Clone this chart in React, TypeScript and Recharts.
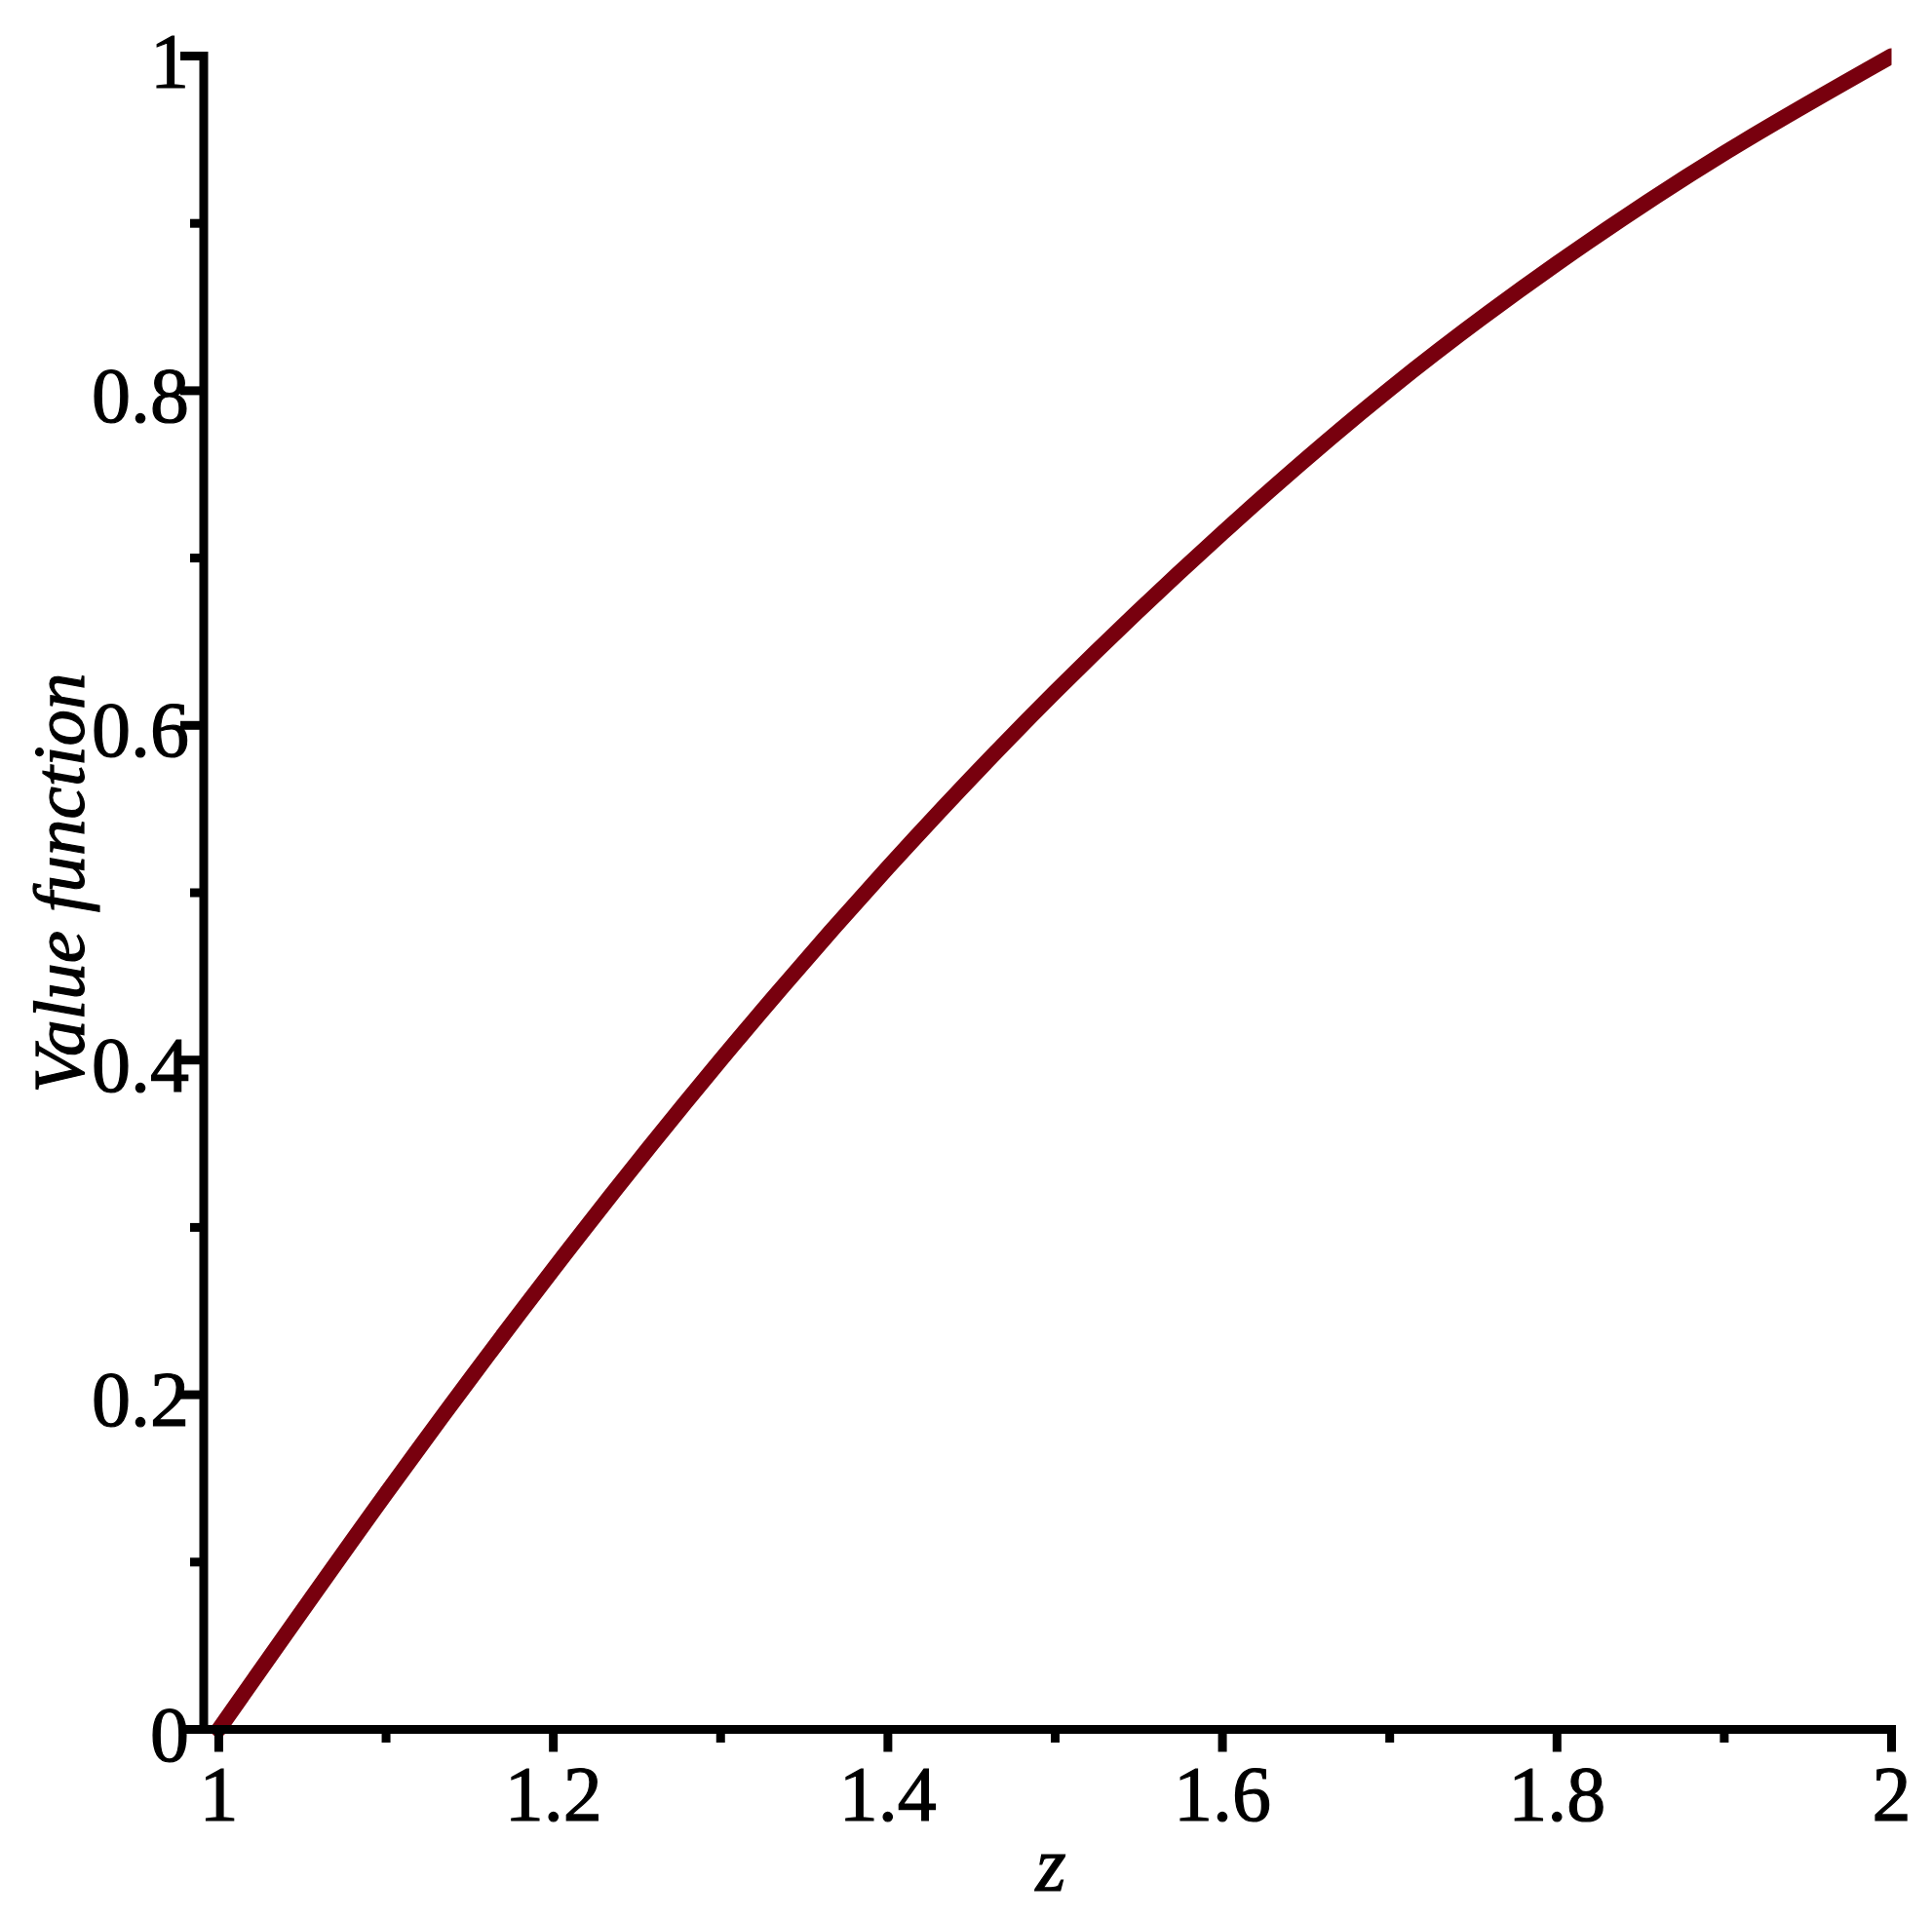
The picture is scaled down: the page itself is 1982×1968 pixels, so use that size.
import { Line, LineChart, XAxis, YAxis } from 'recharts'

// value function sampled at z = 1.0 .. 2.0
const zValues = [1, 1.1, 1.2, 1.3, 1.4, 1.5, 1.6, 1.7, 1.8, 1.9, 2]
const valueFn = [0, 0.141, 0.275, 0.4, 0.515, 0.62, 0.715, 0.801, 0.876, 0.942, 1]

const xTicks = [1, 1.1, 1.2, 1.3, 1.4, 1.5, 1.6, 1.7, 1.8, 1.9, 2]
const xLabels = ['1', '', '1.2', '', '1.4', '', '1.6', '', '1.8', '', '2']
const yTicks = [0, 0.1, 0.2, 0.3, 0.4, 0.5, 0.6, 0.7, 0.8, 0.9, 1]
const yLabels = ['0', '', '0.2', '', '0.4', '', '0.6', '', '0.8', '', '1']

const data = zValues.map((z, i) => ({ z, v: valueFn[i] }))

const FONT = "'Liberation Serif', 'Times New Roman', serif"
const FS = 80
const CURVE = '#78000E'
// a hairline outline gives the glyphs the weight of the original rendering
const INK = { fill: '#000', stroke: '#000', strokeWidth: 1.2 }

function XTick({ x, y, index }: any) {
  const label = xLabels[index]
  return (
    <g>
      <line x1={x} y1={y} x2={x} y2={y + (label ? 23 : 13.5)} stroke="#000" strokeWidth={9} />
      {label && (
        <text x={x} y={y + 93.5} textAnchor="middle" fontFamily={FONT} fontSize={FS} {...INK}>
          {label}
        </text>
      )}
    </g>
  )
}

function YTick({ x, y, index }: any) {
  const label = yLabels[index]
  return (
    <g>
      <line x1={x - (label ? 24 : 14)} y1={y} x2={x} y2={y} stroke="#000" strokeWidth={9} />
      {label && (
        <text x={x - 15} y={y + 32} textAnchor="end" fontFamily={FONT} fontSize={FS} {...INK}>
          {label}
        </text>
      )}
    </g>
  )
}

function YTitle() {
  return (
    <text
      x={86}
      y={906}
      transform="rotate(-90, 86, 906)"
      textAnchor="middle"
      fontFamily={FONT}
      fontStyle="italic"
      fontSize={75}
      {...INK}
    >
      Value function
    </text>
  )
}

function XTitle() {
  return (
    <text x={1078} y={1940} textAnchor="middle" fontFamily={FONT} fontStyle="italic" fontSize={FS} {...INK}>
      z
    </text>
  )
}

export default function App() {
  return (
    <div style={{ position: 'absolute', left: 0, top: 0, background: '#fff' }}>
      <LineChart width={1982} height={1968} data={data} margin={{ top: 57.5, right: 41.5, left: 0, bottom: 43.5 }}>
        <XAxis
          dataKey="z"
          type="number"
          domain={[0.991, 2]}
          allowDataOverflow
          ticks={xTicks}
          interval={0}
          height={150}
          tickSize={0}
          tickMargin={0}
          tickLine={false}
          axisLine={{ stroke: '#000', strokeWidth: 9, strokeLinecap: 'square' }}
          tick={<XTick />}
          label={<XTitle />}
        />
        <YAxis
          type="number"
          domain={[0, 1]}
          ticks={yTicks}
          interval={0}
          width={209}
          tickSize={0}
          tickMargin={0}
          tickLine={false}
          axisLine={{ stroke: '#000', strokeWidth: 9, strokeLinecap: 'square' }}
          tick={<YTick />}
          label={<YTitle />}
        />
        <Line
          type="natural"
          dataKey="v"
          stroke={CURVE}
          strokeWidth={16}
          strokeLinecap="round"
          dot={false}
          activeDot={false}
          isAnimationActive={false}
        />
      </LineChart>
    </div>
  )
}
